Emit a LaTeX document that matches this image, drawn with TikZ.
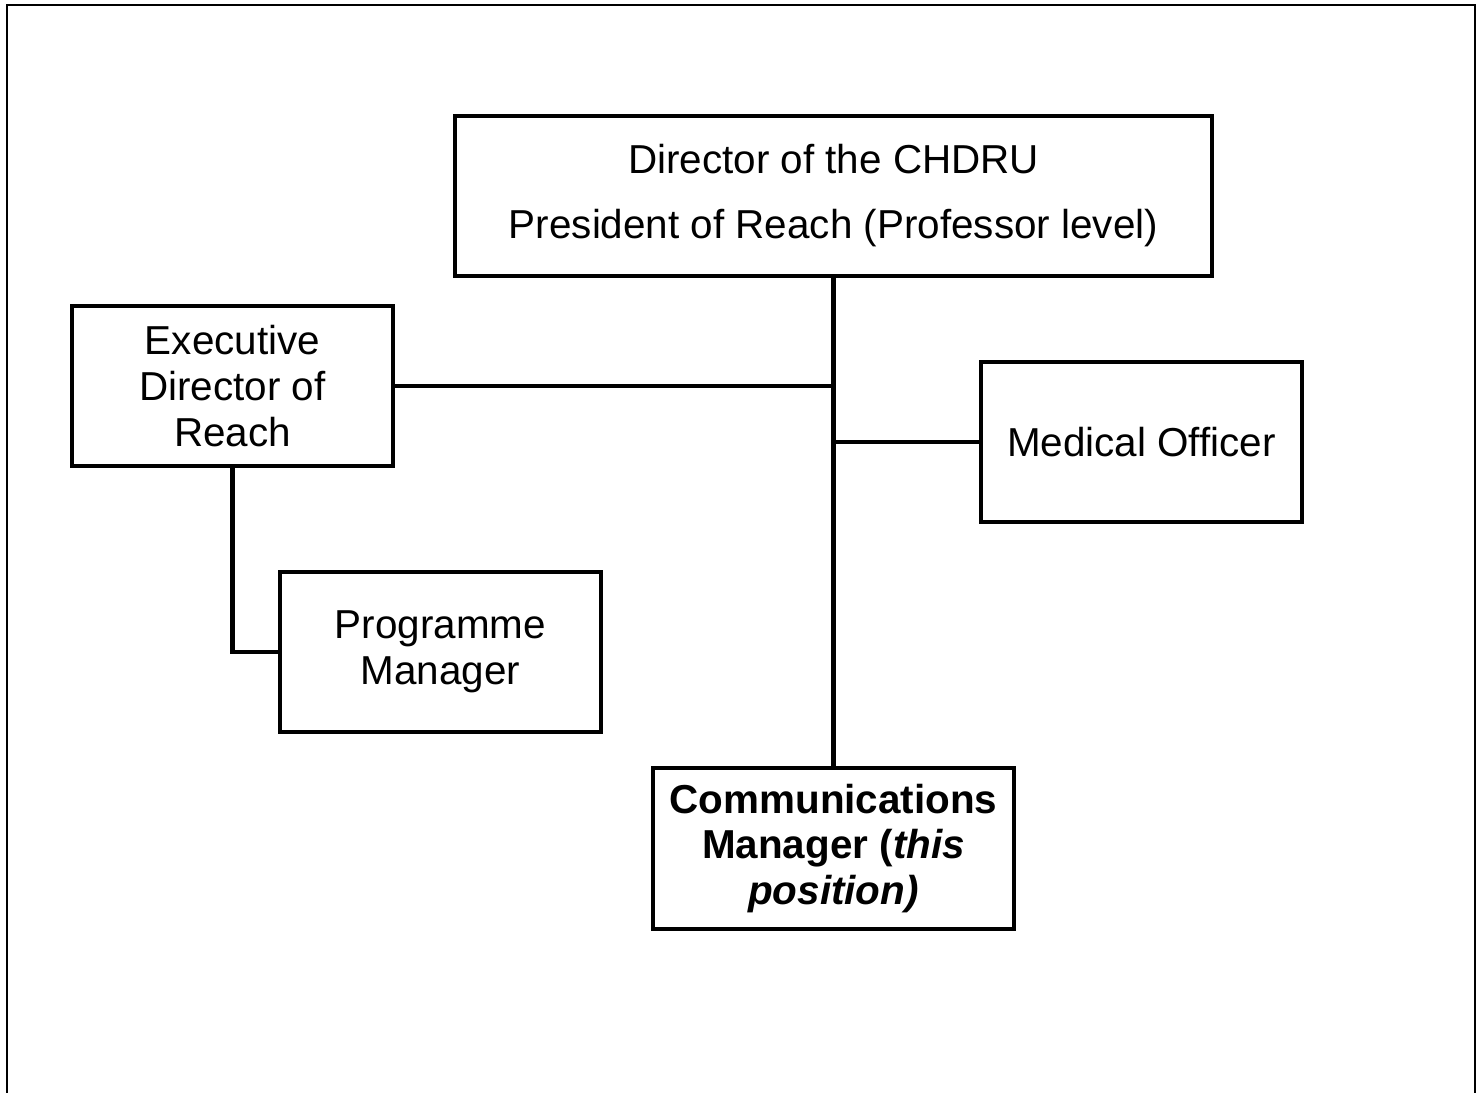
\documentclass[tikz,border=0pt]{standalone}
\usepackage{fontspec}
\setmainfont{Liberation Sans}
\begin{document}
\begin{tikzpicture}[line width=2.3pt,
    post/.style={draw, align=center, font=\fontsize{23}{26}\selectfont,
      minimum width=6.42cm, minimum height=3.2cm, inner sep=2pt}]
    \useasboundingbox (0,0) rectangle (29.62,-21.86);
    \draw[line width=1.5pt] (0.14,-21.9) -- (0.14,-0.1) -- (29.5,-0.1) -- (29.5,-21.9);
    \node[post, minimum width=15.14cm] (director) at (16.67,-3.92)
      {Director of the CHDRU\\[11pt]President of Reach (Professor level)};
    \node[post] (execdir) at (4.65,-7.72) {Executive\\Director of\\Reach};
    \node[post] (medical) at (22.83,-8.84) {Medical Officer};
    \node[post] (progman) at (8.81,-13.04) {Programme\\Manager};
    \node[post, minimum width=7.22cm, minimum height=3.22cm, font=\fontsize{23}{26}\selectfont\bfseries] (commsman) at (16.67,-16.97)
      {Communications\\Manager (\textit{this}\\\textit{position)}};
    \draw (director.south) -- (commsman.north);
    \draw (execdir.east) -- (execdir.east -| director.south);
    \draw (medical.west) -- (medical.west -| director.south);
    \draw (execdir.south) |- (progman.west);
  \end{tikzpicture}
\end{document}
